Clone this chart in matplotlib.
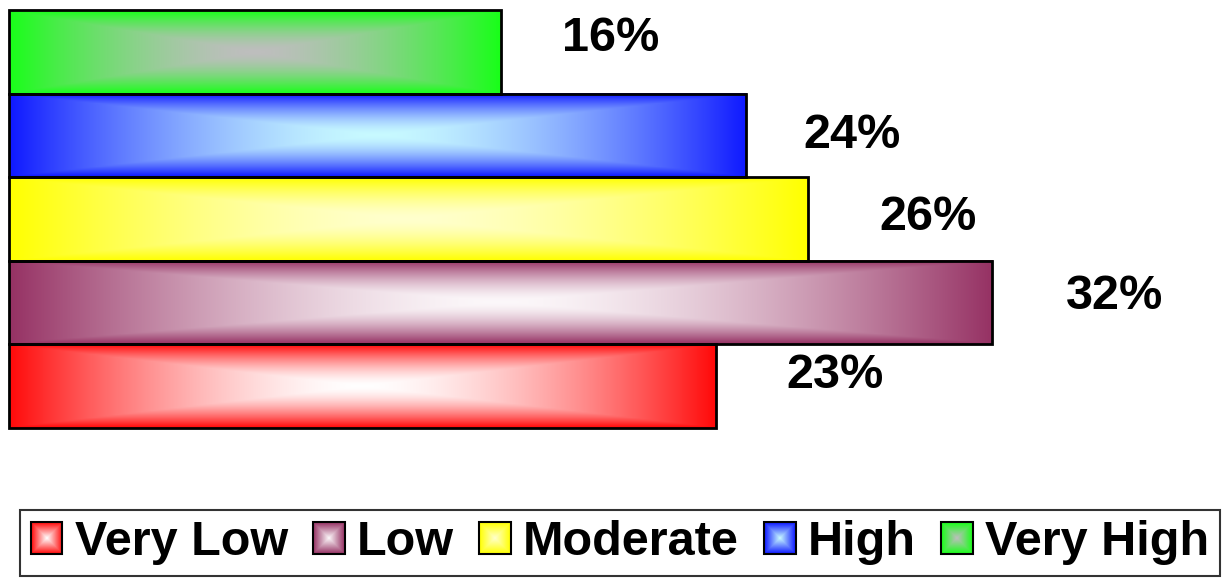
import numpy as np
import matplotlib
matplotlib.use('Agg')
import matplotlib.pyplot as plt
from matplotlib.patches import Rectangle
from matplotlib.legend_handler import HandlerBase
from matplotlib.image import BboxImage
from matplotlib.transforms import Bbox, TransformedBbox

plt.rcParams['font.family'] = ['Liberation Sans', 'DejaVu Sans']
plt.rcParams['font.weight'] = 'bold'

# data (bottom to top)
categories = ['Very Low', 'Low', 'Moderate', 'High', 'Very High']
values = [23, 32, 26, 24, 16]
labels = ['23%', '32%', '26%', '24%', '16%']

# gradient colours: edge colour and centre colour
edge_cols = [(255, 10, 10), (150, 50, 100), (255, 255, 0), (15, 25, 255), (25, 255, 25)]
center_cols = [(255, 255, 255), (252, 248, 250), (255, 255, 205), (200, 250, 255), (190, 190, 190)]

# label placement tweaks (x in data units past bar end, y in pixels)
label_dx = [3.9, 4.0, 3.9, 3.45, 3.6]
label_dy = [11, 6, 2, 0, 13]


def gradient(edge, center, nx, ny, power=1.6):
    u = np.abs(np.linspace(-1, 1, nx))
    v = np.abs(np.linspace(-1, 1, ny))
    t = np.maximum(u[None, :], v[:, None]) ** power
    e = np.array(edge) / 255.0
    c = np.array(center) / 255.0
    return c + (e - c) * t[..., None]


class GradHandler(HandlerBase):
    def __init__(self, img):
        super().__init__()
        self.img = img

    def create_artists(self, legend, orig_handle, xdescent, ydescent,
                       width, height, fontsize, trans):
        s = min(width, height)
        x0 = -xdescent + (width - s) / 2
        y0 = -ydescent + (height - s) / 2
        bb = TransformedBbox(Bbox.from_bounds(x0, y0, s, s), trans)
        im = BboxImage(bb, interpolation='bilinear')
        im.set_data(self.img)
        rect = Rectangle((x0, y0), s, s, facecolor='none', edgecolor='black',
                         lw=1.5, transform=trans)
        return [im, rect]


W, H = 1223, 579
fig = plt.figure(figsize=(W / 100, H / 100), dpi=100)
ax = fig.add_axes([9 / W, (H - 428) / H, (W - 9) / W, 418 / H])

for i, (v, ec, cc) in enumerate(zip(values, edge_cols, center_cols)):
    ax.imshow(gradient(ec, cc, 300, 60), extent=(0, v, i - 0.5, i + 0.5),
              aspect='auto', interpolation='bilinear', zorder=1)
bars = ax.barh(range(len(values)), values, height=1.0, facecolor='none',
               edgecolor='black', lw=2, zorder=2)
for b in bars:
    b.set_clip_on(False)

for i, (v, lab) in enumerate(zip(values, labels)):
    ax.annotate(lab, (v + label_dx[i], i), xytext=(0, label_dy[i] * 0.72),
                textcoords='offset points', ha='center', va='center',
                fontsize=35, fontweight='bold')

ax.set_xlim(0, (W - 9) / 30.72)
ax.set_ylim(-0.5, 4.5)
ax.axis('off')

proxies = [Rectangle((0, 0), 1, 1) for _ in categories]
handlers = {p: GradHandler(gradient(ec, cc, 40, 40, power=1.0))
            for p, ec, cc in zip(proxies, edge_cols, center_cols)}
leg = fig.legend(proxies, categories, handler_map=handlers, ncol=5,
                 loc='lower center', bbox_to_anchor=(620 / W, 3 / H),
                 prop={'size': 35, 'weight': 'bold'}, frameon=True,
                 fancybox=False, edgecolor='black', handlelength=0.65,
                 handleheight=0.65, handletextpad=0.25, columnspacing=0.52,
                 borderpad=0.22, borderaxespad=0)
leg.get_frame().set_linewidth(1.5)

fig.savefig('out.png', dpi=100)
